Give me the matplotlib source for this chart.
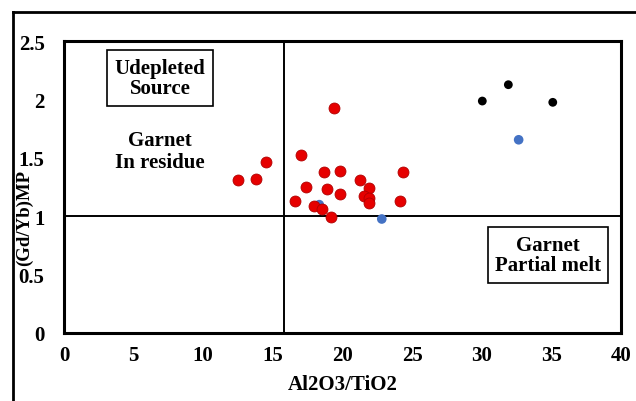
import matplotlib
matplotlib.use("Agg")
import matplotlib.pyplot as plt
from matplotlib.lines import Line2D

plt.rcParams['font.family'] = ['Liberation Serif', 'DejaVu Serif']
plt.rcParams['font.weight'] = 'bold'

# Data
red_x = [19.41, 14.48, 12.47, 13.81, 17.02, 18.69, 19.84, 24.37, 21.26, 17.36, 18.87,
         21.90, 19.84, 21.54, 21.88, 21.90, 16.59, 24.15, 17.97, 18.51, 19.20]
red_y = [1.93, 1.465, 1.31, 1.317, 1.528, 1.38, 1.388, 1.382, 1.311, 1.254, 1.234,
         1.24, 1.189, 1.171, 1.154, 1.111, 1.129, 1.129, 1.088, 1.063, 0.994]
blue_x = [18.33, 22.82, 32.65]
blue_y = [1.10, 0.977, 1.656]
black_x = [30.04, 31.91, 35.1]
black_y = [1.988, 2.128, 1.977]

x_ticks = [0, 5, 10, 15, 20, 25, 30, 35, 40]
y_ticks = [0, 0.5, 1, 1.5, 2, 2.5]
y_tick_labels = ['0', '0.5', '1', '1.5', '2', '2.5']
x_div = 15.8
y_div = 1.0

W, H = 636, 402
fig = plt.figure(figsize=(W / 100, H / 100), dpi=100)
ax = fig.add_axes([64 / W, 1 - 334 / H, (621 - 64) / W, (334 - 42.3) / H])

ax.axvline(x_div, color='black', lw=1.4, zorder=1)
ax.axhline(y_div, color='black', lw=1.4, zorder=1)

ax.scatter(red_x, red_y, s=62, color='#E60000', edgecolors='#B00000', linewidths=0.6, zorder=3)
ax.scatter(blue_x, blue_y, s=48, color='#4472C4', edgecolors='none', zorder=2)
ax.scatter(black_x, black_y, s=40, color='black', edgecolors='none', zorder=3)

ax.set_xlim(0, 40)
ax.set_ylim(0, 2.5)
ax.set_xticks(x_ticks)
ax.set_yticks(y_ticks)
ax.set_yticklabels(y_tick_labels)
ax.tick_params(axis='both', length=0, labelsize=15)
ax.tick_params(axis='x', pad=9)
ax.tick_params(axis='y', pad=14)
for s in ax.spines.values():
    s.set_linewidth(2.2)

ax.set_xlabel('Al2O3/TiO2', fontsize=15, fontweight='bold', labelpad=6)
fig.text(24 / W, 1 - 218 / H, '(Gd/Yb)MP', rotation=90, fontsize=13.5, fontweight='bold',
         ha='center', va='center')

box = dict(boxstyle='square,pad=0.35', facecolor='white', edgecolor='black', lw=1.2)
fig.text(160 / W, 1 - 79 / H, 'Udepleted\nSource', fontsize=15, fontweight='bold',
         ha='center', va='center', linespacing=1.05, bbox=box)
fig.text(160 / W, 1 - 152 / H, 'Garnet\nIn residue', fontsize=15, fontweight='bold',
         ha='center', va='center', linespacing=1.1)
fig.text(548 / W, 1 - 256 / H, 'Garnet\nPartial melt', fontsize=15, fontweight='bold',
         ha='center', va='center', linespacing=1.05, bbox=box)

# outer frame
fig.add_artist(Line2D([13 / W, 13 / W], [0, 1 - 13 / H], transform=fig.transFigure,
                      color='black', lw=2))
fig.add_artist(Line2D([13 / W, 1.01], [1 - 13 / H, 1 - 13 / H], transform=fig.transFigure,
                      color='black', lw=2))

fig.savefig('out.png', dpi=100, facecolor='white')
